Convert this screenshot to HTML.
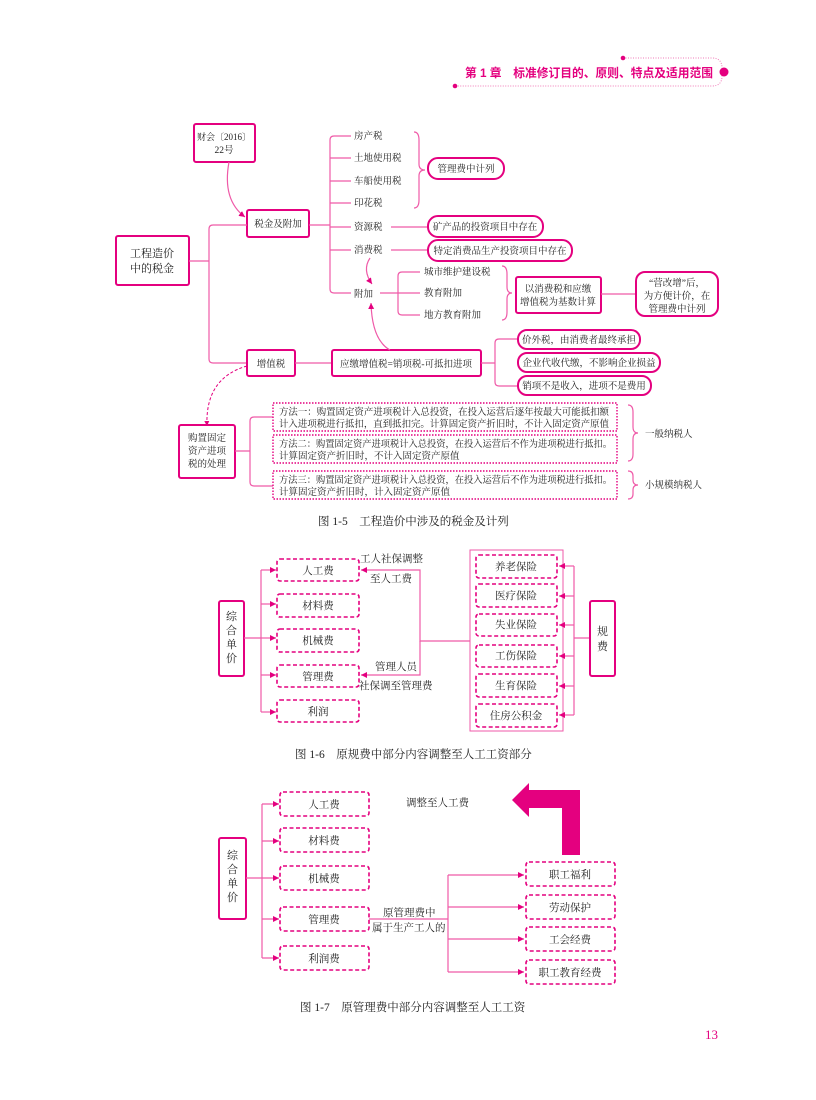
<!DOCTYPE html>
<html><head><meta charset="utf-8"><style>
html,body{margin:0;padding:0;background:#fff}
svg{display:block}
text{font-family:"Liberation Serif","Noto Serif CJK SC","Noto Sans CJK SC",serif;fill:#222;font-size:9.5px}
.c{text-anchor:middle}
.b{fill:none;stroke:#e4007f;stroke-width:2}
.l{fill:none;stroke:#ef5aa8;stroke-width:1.2}
.d{fill:none;stroke:#e4007f;stroke-width:1.6;stroke-dasharray:4,2.5}
.o{fill:none;stroke:#e4007f;stroke-width:1.4;stroke-dasharray:1.5,1.5}
.cap{font-size:11.5px;fill:#222}
</style></head><body>
<svg width="816" height="1100" viewBox="0 0 816 1100" xmlns="http://www.w3.org/2000/svg">
<defs>
<marker id="a" markerWidth="6" markerHeight="6" refX="5" refY="3" orient="auto"><path d="M0,0.5 L5,3 L0,5.5z" fill="#e4007f"/></marker>
</defs>
<!-- header -->
<path d="M623,58 H712 Q722,58 722,68 V76 Q722,86 712,86 H455" fill="none" stroke="#f07ab8" stroke-width="1" stroke-dasharray="1,1.5"/>
<circle cx="623" cy="58" r="2.3" fill="#e4007f"/>
<circle cx="455" cy="86" r="2.3" fill="#e4007f"/>
<circle cx="724" cy="72" r="4.5" fill="#e4007f"/>
<text x="465" y="77" textLength="248" lengthAdjust="spacingAndGlyphs" style="font-size:12px;font-weight:bold;fill:#e4007f;font-family:'Liberation Sans','Noto Sans CJK SC',sans-serif">第 1 章　标准修订目的、原则、特点及适用范围</text>

<!-- Fig 1-5 -->
<rect class="b" x="194" y="124" width="61" height="38" rx="2"/>
<text class="c" x="224" y="140" style="font-size:9px">财会〔2016〕</text><text class="c" x="224" y="153">22号</text>
<path class="l" d="M229,162 Q222,200 245,217" marker-end="url(#a)"/>
<rect class="b" x="247" y="210" width="62" height="27" rx="2"/>
<text class="c" x="278" y="227">税金及附加</text>
<rect class="b" x="116" y="236" width="73" height="49" rx="2"/>
<text class="c" x="152" y="257" style="font-size:11px">工程造价</text><text class="c" x="152" y="272" style="font-size:11px">中的税金</text>
<path class="l" d="M189,261 H209 M247,225 H213 Q209,225 209,229 V359 Q209,363 213,363 H247"/>
<rect class="b" x="247" y="350" width="48" height="26" rx="2"/>
<text class="c" x="271" y="367">增值税</text>
<path class="l" d="M295,363 H332"/>
<rect class="b" x="332" y="350" width="149" height="26" rx="2"/>
<text class="c" x="406" y="367">应缴增值税=销项税-可抵扣进项</text>
<path class="l" d="M309,225 H330 M351,136 H334 Q330,136 330,140 V289 Q330,293 334,293 H351 M330,158 H351 M330,181 H351 M330,203 H351 M330,227 H351 M330,250 H351"/>
<text x="354" y="139">房产税</text><text x="354" y="161">土地使用税</text><text x="354" y="184">车船使用税</text><text x="354" y="206">印花税</text><text x="354" y="230">资源税</text><text x="354" y="253">消费税</text><text x="354" y="297">附加</text>
<path class="l" d="M414,132 Q419,132 419,140 V164 Q419,170 425,170 Q419,170 419,176 V200 Q419,208 414,208"/>
<rect class="b" x="428" y="158" width="76" height="21" rx="10"/><text class="c" x="466" y="172">管理费中计列</text>
<path class="l" d="M391,227 H428 M391,250 H428"/>
<rect class="b" x="428" y="216" width="115" height="21" rx="10"/><text class="c" x="485" y="230">矿产品的投资项目中存在</text>
<rect class="b" x="428" y="240" width="144" height="21" rx="10"/><text class="c" x="500" y="254">特定消费品生产投资项目中存在</text>
<path class="l" d="M370,258 Q362,270 372,284" marker-end="url(#a)"/>
<path class="l" d="M390,350 Q372,340 371,303" marker-end="url(#a)"/>
<path class="l" d="M380,293 H398 M420,272 H402 Q398,272 398,276 V311 Q398,315 402,315 H420 M398,293 H420"/>
<text x="424" y="275">城市维护建设税</text><text x="424" y="296">教育附加</text><text x="424" y="318">地方教育附加</text>
<path class="l" d="M502,266 Q507,266 507,274 V287 Q507,293 512,293 Q507,293 507,299 V312 Q507,320 502,320"/>
<rect class="b" x="516" y="277" width="85" height="36" rx="2"/>
<text class="c" x="558" y="292">以消费税和应缴</text><text class="c" x="558" y="305">增值税为基数计算</text>
<path class="l" d="M601,294 H636"/>
<rect class="b" x="636" y="272" width="82" height="44" rx="9"/>
<text class="c" x="677" y="286">“营改增”后，</text><text class="c" x="677" y="299">为方便计价，在</text><text class="c" x="677" y="312">管理费中计列</text>
<path class="l" d="M481,363 H495 M518,339 H499 Q495,339 495,343 V382 Q495,386 499,386 H518"/>
<rect class="b" x="518" y="330" width="122" height="19" rx="9"/><text class="c" x="579" y="343">价外税，由消费者最终承担</text>
<rect class="b" x="518" y="353" width="142" height="19" rx="9"/><text class="c" x="589" y="366">企业代收代缴，不影响企业损益</text>
<rect class="b" x="518" y="376" width="133" height="19" rx="9"/><text class="c" x="584" y="389">销项不是收入，进项不是费用</text>
<path d="M247,366 Q205,378 207,426" fill="none" stroke="#e4007f" stroke-width="1" stroke-dasharray="3,2" marker-end="url(#a)"/>
<rect class="b" x="179" y="425" width="56" height="53" rx="2"/>
<text class="c" x="207" y="441">购置固定</text><text class="c" x="207" y="454">资产进项</text><text class="c" x="207" y="467">税的处理</text>
<path class="l" d="M235,451 H250 M273,417 H254 Q250,417 250,421 V482 Q250,486 254,486 H273"/>
<g style="font-size:9px">
<rect class="o" x="273" y="403" width="344" height="28"/>
<text x="279" y="415" textLength="330" lengthAdjust="spacingAndGlyphs">方法一：购置固定资产进项税计入总投资，在投入运营后逐年按最大可能抵扣额</text>
<text x="279" y="427" textLength="330" lengthAdjust="spacingAndGlyphs">计入进项税进行抵扣，直到抵扣完。计算固定资产折旧时，不计入固定资产原值</text>
<rect class="o" x="273" y="435" width="344" height="28"/>
<text x="279" y="447" textLength="333" lengthAdjust="spacingAndGlyphs">方法二：购置固定资产进项税计入总投资，在投入运营后不作为进项税进行抵扣。</text>
<text x="279" y="459">计算固定资产折旧时，不计入固定资产原值</text>
<rect class="o" x="273" y="471" width="344" height="28"/>
<text x="279" y="483" textLength="333" lengthAdjust="spacingAndGlyphs">方法三：购置固定资产进项税计入总投资，在投入运营后不作为进项税进行抵扣。</text>
<text x="279" y="495">计算固定资产折旧时，计入固定资产原值</text>
</g>
<path class="l" d="M628,405 Q633,405 633,412 V427 Q633,433 638,433 Q633,433 633,439 V454 Q633,461 628,461 M628,471 Q633,471 633,476 V480 Q633,485 638,485 Q633,485 633,490 V494 Q633,499 628,499"/>
<text x="645" y="437">一般纳税人</text><text x="645" y="488">小规模纳税人</text>
<text class="cap" x="318" y="525">图 1-5　工程造价中涉及的税金及计列</text>

<!-- Fig 1-6 -->
<rect class="b" x="219" y="601" width="25" height="75" rx="2"/>
<text class="c" x="231.5" y="620" style="font-size:11px">综</text><text class="c" x="231.5" y="634" style="font-size:11px">合</text><text class="c" x="231.5" y="648" style="font-size:11px">单</text><text class="c" x="231.5" y="662" style="font-size:11px">价</text>
<path class="l" d="M244,638 H261 M261,570 V712"/>
<path class="l" d="M261,570 H276" marker-end="url(#a)"/>
<path class="l" d="M261,604 H276" marker-end="url(#a)"/>
<path class="l" d="M261,638 H276" marker-end="url(#a)"/>
<path class="l" d="M261,675 H276" marker-end="url(#a)"/>
<path class="l" d="M261,712 H276" marker-end="url(#a)"/>
<g>
<rect class="d" x="277" y="559" width="82" height="22" rx="3"/><text class="c" x="318" y="574" style="font-size:10.5px">人工费</text>
<rect class="d" x="277" y="594" width="82" height="23" rx="3"/><text class="c" x="318" y="609" style="font-size:10.5px">材料费</text>
<rect class="d" x="277" y="629" width="82" height="23" rx="3"/><text class="c" x="318" y="644" style="font-size:10.5px">机械费</text>
<rect class="d" x="277" y="665" width="82" height="22" rx="3"/><text class="c" x="318" y="680" style="font-size:10.5px">管理费</text>
<rect class="d" x="277" y="700" width="82" height="22" rx="3"/><text class="c" x="318" y="715" style="font-size:10.5px">利润</text>
</g>
<path class="l" d="M470,641 H420 V570 H361" marker-end="url(#a)"/>
<path class="l" d="M420,641 V675 H361" marker-end="url(#a)"/>
<text x="360" y="562" style="font-size:10.5px">工人社保调整</text><text x="370" y="582" style="font-size:10.5px">至人工费</text>
<text x="375" y="670" style="font-size:10.5px">管理人员</text><text x="359" y="689" style="font-size:10.5px">社保调至管理费</text>
<rect x="470" y="550" width="93" height="181" fill="none" stroke="#ef5aa8" stroke-width="1"/>
<g>
<rect class="d" x="476" y="555" width="81" height="23" rx="3"/><text class="c" x="516" y="570" style="font-size:10.5px">养老保险</text>
<rect class="d" x="476" y="584" width="81" height="23" rx="3"/><text class="c" x="516" y="599" style="font-size:10.5px">医疗保险</text>
<rect class="d" x="476" y="614" width="81" height="22" rx="3"/><text class="c" x="516" y="628" style="font-size:10.5px">失业保险</text>
<rect class="d" x="476" y="645" width="81" height="22" rx="3"/><text class="c" x="516" y="659" style="font-size:10.5px">工伤保险</text>
<rect class="d" x="476" y="674" width="81" height="23" rx="3"/><text class="c" x="516" y="689" style="font-size:10.5px">生育保险</text>
<rect class="d" x="476" y="704" width="81" height="23" rx="3"/><text class="c" x="516" y="719" style="font-size:10.5px">住房公积金</text>
</g>
<path class="l" d="M574,566 V715 M590,638 H574"/>
<path class="l" d="M574,566 H559" marker-end="url(#a)"/>
<path class="l" d="M574,596 H559" marker-end="url(#a)"/>
<path class="l" d="M574,625 H559" marker-end="url(#a)"/>
<path class="l" d="M574,656 H559" marker-end="url(#a)"/>
<path class="l" d="M574,686 H559" marker-end="url(#a)"/>
<path class="l" d="M574,715 H559" marker-end="url(#a)"/>
<rect class="b" x="590" y="601" width="25" height="75" rx="2"/>
<text class="c" x="602.5" y="635" style="font-size:11px">规</text><text class="c" x="602.5" y="650" style="font-size:11px">费</text>
<text class="cap" x="295" y="758">图 1-6　原规费中部分内容调整至人工工资部分</text>

<!-- Fig 1-7 -->
<rect class="b" x="219" y="838" width="27" height="81" rx="2"/>
<text class="c" x="232.5" y="859" style="font-size:11px">综</text><text class="c" x="232.5" y="873" style="font-size:11px">合</text><text class="c" x="232.5" y="887" style="font-size:11px">单</text><text class="c" x="232.5" y="901" style="font-size:11px">价</text>
<path class="l" d="M246,878 H262 M262,804 V958"/>
<path class="l" d="M262,804 H279" marker-end="url(#a)"/>
<path class="l" d="M262,841 H279" marker-end="url(#a)"/>
<path class="l" d="M262,878 H279" marker-end="url(#a)"/>
<path class="l" d="M262,919 H279" marker-end="url(#a)"/>
<path class="l" d="M262,958 H279" marker-end="url(#a)"/>
<g>
<rect class="d" x="280" y="792" width="89" height="24" rx="3"/><text class="c" x="324" y="808" style="font-size:10.5px">人工费</text>
<rect class="d" x="280" y="828" width="89" height="24" rx="3"/><text class="c" x="324" y="844" style="font-size:10.5px">材料费</text>
<rect class="d" x="280" y="866" width="89" height="24" rx="3"/><text class="c" x="324" y="882" style="font-size:10.5px">机械费</text>
<rect class="d" x="280" y="907" width="89" height="24" rx="3"/><text class="c" x="324" y="923" style="font-size:10.5px">管理费</text>
<rect class="d" x="280" y="946" width="89" height="24" rx="3"/><text class="c" x="324" y="962" style="font-size:10.5px">利润费</text>
</g>
<path class="l" d="M369,919 H448 M448,875 V972"/>
<path class="l" d="M448,875 H524" marker-end="url(#a)"/>
<path class="l" d="M448,907 H524" marker-end="url(#a)"/>
<path class="l" d="M448,939 H524" marker-end="url(#a)"/>
<path class="l" d="M448,972 H524" marker-end="url(#a)"/>
<text x="383" y="916" style="font-size:10.5px">原管理费中</text><text x="372" y="931" style="font-size:10.5px">属于生产工人的</text>
<text x="406" y="806" style="font-size:10.5px">调整至人工费</text>
<g>
<rect class="d" x="526" y="862" width="89" height="24" rx="3"/><text class="c" x="570" y="878" style="font-size:10.5px">职工福利</text>
<rect class="d" x="526" y="895" width="89" height="24" rx="3"/><text class="c" x="570" y="911" style="font-size:10.5px">劳动保护</text>
<rect class="d" x="526" y="927" width="89" height="24" rx="3"/><text class="c" x="570" y="943" style="font-size:10.5px">工会经费</text>
<rect class="d" x="526" y="960" width="89" height="24" rx="3"/><text class="c" x="570" y="976" style="font-size:10.5px">职工教育经费</text>
</g>
<path d="M512,800 L529,783 V790 H580 V855 H562 V808 H529 V817 Z" fill="#e4007f"/>
<text class="cap" x="300" y="1011">图 1-7　原管理费中部分内容调整至人工工资</text>
<text x="705" y="1039" style="font-size:13px;fill:#e4007f">13</text>
</svg>
</body></html>
